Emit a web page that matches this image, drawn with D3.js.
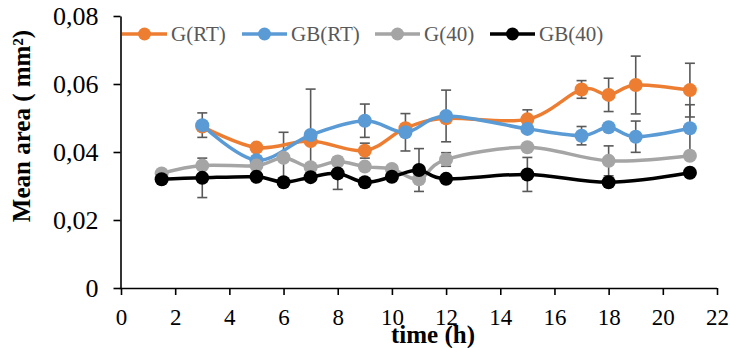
<!DOCTYPE html>
<html><head><meta charset="utf-8">
<script src="https://cdn.jsdelivr.net/npm/d3@7"></script>
<style>body{margin:0;background:#fff;overflow:hidden}</style>
</head><body>
<svg id="c" width="730" height="348"></svg>
<script>
// ---- data ----
const timesRT = [3, 5, 7, 9, 10.5, 12, 15, 17, 18, 19, 21];
const gRT     = [0.0475, 0.0413, 0.0432, 0.0404, 0.0470, 0.0499, 0.0496, 0.0584, 0.0568, 0.0597, 0.0582];
const gRTerr  = [null, null, null, 0.0022, null, null, 0.0028, 0.0026, 0.0049, 0.0085, 0.0079];
const gbRT    = [0.0479, 0.0376, 0.0450, 0.0492, 0.0458, 0.0506, 0.0468, 0.0448, 0.0473, 0.0445, 0.0470];
const gbRTerr = [0.0036, null, 0.0135, 0.0049, 0.0055, 0.0076, null, 0.0027, null, 0.0046, 0.0069];
const times40 = [1.5, 3, 5, 6, 7, 8, 9, 10, 11, 12, 15, 18, 21];
const g40     = [0.0337, 0.0360, 0.0360, 0.0383, 0.0355, 0.0372, 0.0357, 0.0350, 0.0320, 0.0378, 0.0414, 0.0374, 0.0389];
const g40err  = [null, null, null, 0.0075, null, null, null, null, null, 0.0020, null, 0.0044, null];
const gb40    = [0.0320, 0.0324, 0.0327, 0.0311, 0.0326, 0.0337, 0.0311, 0.0327, 0.0347, 0.0321, 0.0334, 0.0311, 0.0339];
const gb40err = [null, 0.0058, null, null, null, 0.0047, null, null, 0.0063, null, 0.0050, null, null];
const seriesNames = ["G(RT)", "GB(RT)", "G(40)", "GB(40)"];
const seriesColors = ["#ED7D31", "#5B9BD5", "#A5A5A5", "#000000"];
const xTicks = [0, 2, 4, 6, 8, 10, 12, 14, 16, 18, 20, 22];
const yTicks = [0, 0.02, 0.04, 0.06, 0.08];

const series = [
  {name: seriesNames[0], color: seriesColors[0], t: timesRT, v: gRT, e: gRTerr},
  {name: seriesNames[1], color: seriesColors[1], t: timesRT, v: gbRT, e: gbRTerr},
  {name: seriesNames[2], color: seriesColors[2], t: times40, v: g40, e: g40err},
  {name: seriesNames[3], color: seriesColors[3], t: times40, v: gb40, e: gb40err}
].map(s => ({...s, pts: s.t.map((t, i) => ({t, v: s.v[i], e: s.e[i]}))}));

const svg = d3.select("#c");
const FONT = "'Liberation Serif','Times New Roman',serif";
const x = d3.scaleLinear().domain([0, 22]).range([121, 717]);
const y = d3.scaleLinear().domain([0, 0.08]).range([288, 16]);

// axes
const yAxis = svg.append("g").attr("transform", "translate(120.5,0)")
  .call(d3.axisLeft(y).tickValues(yTicks).tickSize(7).tickSizeOuter(0).tickPadding(15)
    .tickFormat(d => d === 0 ? "0" : d3.format(".2f")(d).replace(".", ",")));
yAxis.selectAll("text").attr("font-family", FONT).attr("font-size", 26).attr("fill", "#000").attr("dy", "0.34em");
yAxis.selectAll("line,path").attr("stroke", "#000").attr("stroke-width", 1.6);

const xAxis = svg.append("g").attr("transform", "translate(0,288)")
  .call(d3.axisBottom(x).tickValues(xTicks).tickSize(7).tickSizeOuter(0));
xAxis.selectAll("text").attr("font-family", FONT).attr("font-size", 23).attr("fill", "#000")
  .attr("y", 37).attr("dy", 0);
xAxis.selectAll("line,path").attr("stroke", "#000").attr("stroke-width", 1.6);
xAxis.select("path").attr("d", "M119.7,0.5H717");

// axis titles
svg.append("text").attr("x", 433).attr("y", 343).attr("text-anchor", "middle")
  .attr("font-family", FONT).attr("font-weight", "bold").attr("font-size", 25).text("time (h)");
svg.append("text").attr("transform", "translate(30,126) rotate(-90)").attr("text-anchor", "middle")
  .attr("font-family", FONT).attr("font-weight", "bold").attr("font-size", 25).text("Mean area ( mm²)");

// error bars
const eg = svg.append("g");
series.forEach(s => {
  s.pts.filter(p => p.e != null).forEach(p => {
    const cx = x(p.t), y1 = y(p.v + p.e), y2 = y(p.v - p.e);
    eg.append("line").attr("x1", cx).attr("x2", cx).attr("y1", y1).attr("y2", y2);
    eg.append("line").attr("x1", cx - 5).attr("x2", cx + 5).attr("y1", y1).attr("y2", y1);
    eg.append("line").attr("x1", cx - 5).attr("x2", cx + 5).attr("y1", y2).attr("y2", y2);
  });
});
eg.selectAll("line").attr("stroke", "#595959").attr("stroke-width", 1.6);

// lines + markers
const line = d3.line().x(d => x(d.t)).y(d => y(d.v)).curve(d3.curveCardinal.tension(0));
series.forEach(s => {
  svg.append("path").datum(s.pts).attr("d", line).attr("fill", "none")
    .attr("stroke", s.color).attr("stroke-width", 3.5).attr("stroke-linejoin", "round");
  svg.append("g").selectAll("circle").data(s.pts).join("circle")
    .attr("cx", d => x(d.t)).attr("cy", d => y(d.v)).attr("r", 7).attr("fill", s.color);
});

// legend
const legX = [122, 242, 375, 490];
const lg = svg.append("g");
series.forEach((s, i) => {
  const lx = legX[i], ly = 34;
  lg.append("line").attr("x1", lx).attr("x2", lx + 45).attr("y1", ly).attr("y2", ly)
    .attr("stroke", s.color).attr("stroke-width", 3.5);
  lg.append("circle").attr("cx", lx + 22.5).attr("cy", ly).attr("r", 6.5).attr("fill", s.color);
  lg.append("text").attr("x", lx + 49).attr("y", ly + 7).attr("font-family", FONT)
    .attr("font-size", 21).attr("fill", "#595959").text(s.name);
});
</script>
</body></html>
